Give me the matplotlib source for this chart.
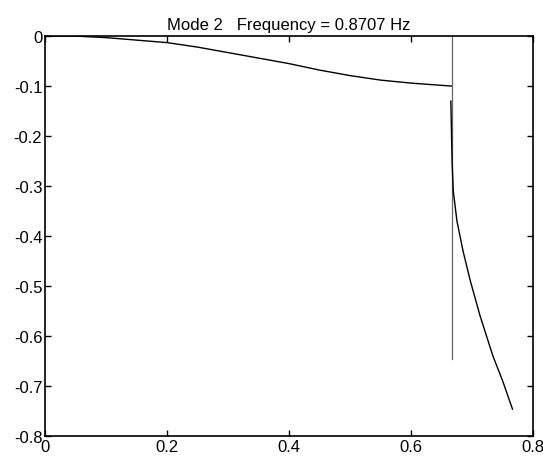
import matplotlib
matplotlib.use('Agg')
import matplotlib.pyplot as plt

plt.rcParams['font.family'] = ['Liberation Sans', 'DejaVu Sans']

# mode shape, outer segment
x_outer = [0, 0.05, 0.1, 0.15, 0.2, 0.25, 0.3, 0.35, 0.4, 0.45, 0.5, 0.55, 0.6, 0.667]
y_outer = [0, 0, -0.003, -0.008, -0.013, -0.022, -0.033, -0.044, -0.055, -0.068,
           -0.079, -0.088, -0.094, -0.100]

# mode shape, tip segment
x_tip = [0.665, 0.667, 0.669, 0.675, 0.685, 0.697, 0.713, 0.734, 0.75, 0.766]
y_tip = [-0.13, -0.25, -0.31, -0.37, -0.43, -0.49, -0.56, -0.64, -0.69, -0.746]

# vertical member
x_vert = [0.667, 0.667]
y_vert = [0, -0.646]

title = 'Mode 2   Frequency = 0.8707 Hz'

fig = plt.figure(figsize=(5.43, 4.64), dpi=100)
ax = fig.add_axes([0.083, 0.058, 0.899, 0.862])

ax.plot(x_outer, y_outer, color='black', lw=1.0)
ax.plot(x_vert, y_vert, color='#666666', lw=0.9)
ax.plot(x_tip, y_tip, color='black', lw=1.0)

ax.set_xlim(0, 0.8)
ax.set_ylim(-0.8, 0)
ax.set_xticks([0, 0.2, 0.4, 0.6, 0.8])
ax.set_xticklabels(['0', '0.2', '0.4', '0.6', '0.8'])
ax.set_yticks([0, -0.1, -0.2, -0.3, -0.4, -0.5, -0.6, -0.7, -0.8])
ax.set_yticklabels(['0', '-0.1', '-0.2', '-0.3', '-0.4', '-0.5', '-0.6', '-0.7', '-0.8'])
ax.tick_params(direction='in', top=True, right=True, length=4, width=1,
               labelsize=12, pad=2)
for s in ax.spines.values():
    s.set_linewidth(1.2)

ax.set_title(title, fontsize=12, pad=5)

fig.savefig('out.png', dpi=100)
